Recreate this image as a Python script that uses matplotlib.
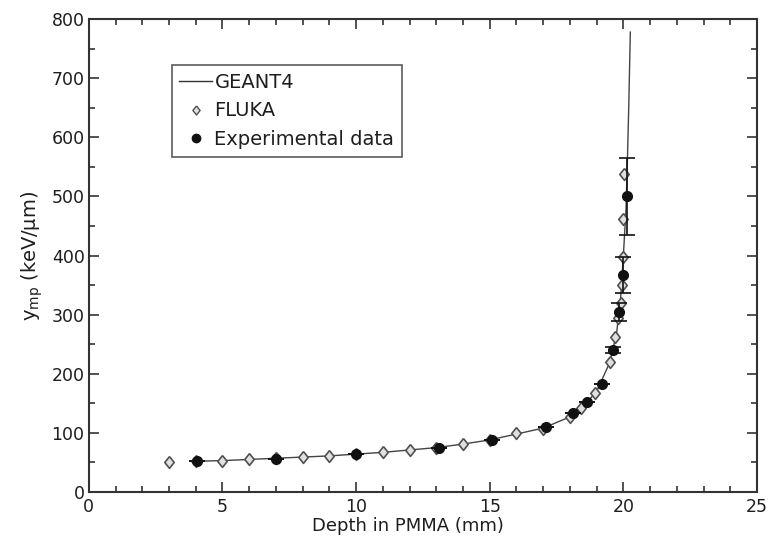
import matplotlib
matplotlib.use("Agg")
import matplotlib.pyplot as plt
from matplotlib.ticker import MultipleLocator
from matplotlib.lines import Line2D

plt.rcParams['font.family'] = ['DejaVu Sans']

# GEANT4 simulation curve
geant4_x = [4, 5, 6, 7, 8, 9, 10, 11, 12, 13, 14, 15, 16, 17, 18, 18.5, 19, 19.5,
            19.75, 19.9, 20.0, 20.1, 20.15, 20.2, 20.26]
geant4_y = [52, 53, 55, 57, 59, 61, 64, 67, 71, 75, 81, 88, 98, 108, 127, 145, 170, 220,
            270, 330, 400, 480, 560, 650, 778]

# FLUKA simulation points
fluka_x = [3, 4, 5, 6, 7, 8, 9, 10, 11, 12, 13, 14, 15, 16, 17, 18, 18.4, 18.95, 19.5,
           19.7, 19.8, 19.9, 19.93, 19.97, 20.0, 20.03]
fluka_y = [51, 52, 53, 55, 57, 59, 61, 64, 67, 71, 75, 81, 88, 99, 106, 126, 142, 168, 220,
           263, 294, 320, 350, 398, 462, 538]

# Experimental data
exp_x = [4.05, 7.0, 10.0, 13.1, 15.1, 17.1, 18.1, 18.65, 19.2, 19.6, 19.85, 20.0, 20.15]
exp_y = [52, 56, 64, 75, 88, 110, 133, 152, 183, 240, 305, 367, 500]
exp_err = [0, 0, 0, 0, 0, 0, 0, 0, 0, 5, 15, 30, 65]

diamond = [(0, 1), (0.8, 0), (0, -1), (-0.8, 0), (0, 1)]

fig = plt.figure(figsize=(7.72, 5.46), dpi=100)
ax = fig.add_axes([0.115, 0.099, 0.8656, 0.866])

txt = '#1e1e1e'
ax.plot(geant4_x, geant4_y, '-', color='#444444', lw=1.0, zorder=2)
ax.plot(fluka_x, fluka_y, linestyle='none', marker=diamond, markersize=8.5,
        markerfacecolor='#e0e0e0', markeredgecolor='#505050', markeredgewidth=1.2,
        zorder=3)
ax.errorbar(exp_x, exp_y, yerr=exp_err, fmt='o', color='#111111', markersize=7,
            ecolor='#111111', elinewidth=1.2, capsize=6, capthick=1.2, zorder=4)

ax.set_xlim(0, 25)
ax.set_ylim(0, 800)
ax.xaxis.set_major_locator(MultipleLocator(5))
ax.xaxis.set_minor_locator(MultipleLocator(1))
ax.yaxis.set_major_locator(MultipleLocator(100))
ax.yaxis.set_minor_locator(MultipleLocator(50))
ax.tick_params(which='both', direction='in', top=True, right=True, colors='#333333',
               labelcolor=txt, labelsize=12.5, width=1.2)
ax.tick_params(which='major', length=7)
ax.tick_params(which='minor', length=4)
ax.tick_params(axis='x', which='major', pad=4)
ax.tick_params(axis='y', which='major', pad=3)
for s in ax.spines.values():
    s.set_color('#333333')
    s.set_linewidth(1.5)

ax.set_xlabel('Depth in PMMA (mm)', fontsize=13, color=txt, labelpad=-1)
ax.xaxis.set_label_coords(0.477, -0.052)
ax.set_ylabel(r'y$_{\mathregular{mp}}$ (keV/µm)', fontsize=14, color=txt, labelpad=5)

h_g = Line2D([], [], color='#333333', lw=1.0)
h_fl = Line2D([], [], linestyle='none', marker=diamond, markersize=6.5,
              markerfacecolor='#e0e0e0', markeredgecolor='#505050')
h_exp = Line2D([], [], linestyle='none', marker='o', color='#111111', markersize=6)
leg = ax.legend([h_g, h_fl, h_exp], ['GEANT4', 'FLUKA', 'Experimental data'],
                loc='upper left', bbox_to_anchor=(0.124, 0.903), fontsize=14,
                frameon=True, fancybox=False, edgecolor='#333333', handlelength=1.7,
                handletextpad=0.1, borderpad=0.4, labelspacing=0.5, borderaxespad=0)
leg.get_frame().set_linewidth(1.2)
for t in leg.get_texts():
    t.set_color(txt)

fig.savefig('out.png', dpi=100)
